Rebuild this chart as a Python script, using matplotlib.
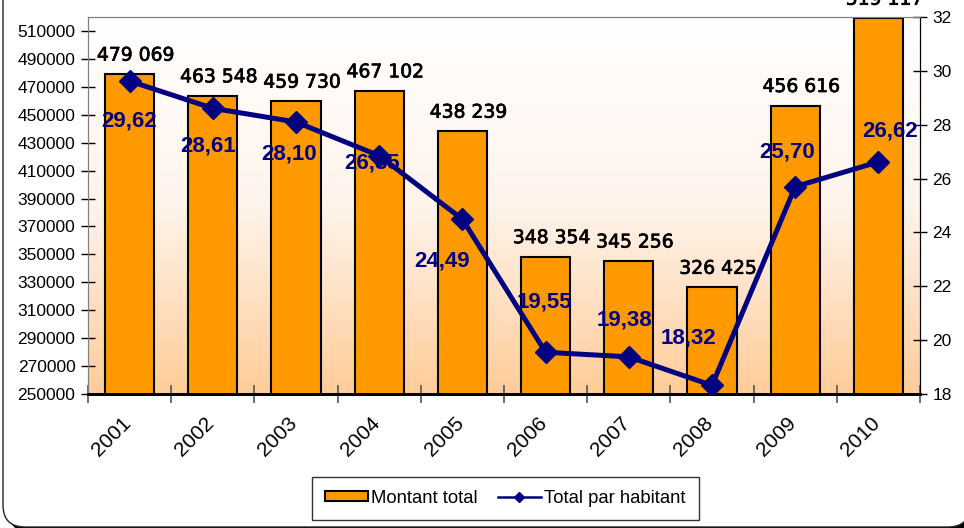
import matplotlib
matplotlib.use("Agg")
import matplotlib.pyplot as plt
import matplotlib.patheffects as pe
import numpy as np
from matplotlib.colors import LinearSegmentedColormap
from matplotlib.lines import Line2D
from matplotlib.patches import FancyBboxPatch, Patch
from matplotlib.transforms import IdentityTransform, ScaledTranslation

plt.rcParams["font.family"] = ["Liberation Sans", "DejaVu Sans"]

# data
years = ["2001", "2002", "2003", "2004", "2005", "2006", "2007", "2008", "2009", "2010"]
montant_total = [479069, 463548, 459730, 467102, 438239, 348354, 345256, 326425, 456616, 519117]
par_habitant = [29.62, 28.61, 28.10, 26.85, 24.49, 19.55, 19.38, 18.32, 25.70, 26.62]

# label placement for the per-inhabitant values (pixel offsets from the point)
hab_label_offsets = [(-1, -40), (-5, -38), (-7, -32), (-7, -7), (-20, -42),
                     (-1, 50), (-4, 37), (-24, 47), (-8, 35), (12, 31)]

ORANGE = "#FF9900"
NAVY = "#000080"

fig = plt.figure(figsize=(9.64, 5.28), dpi=100)
fig.patch.set_facecolor("white")

# rounded outer frame with a dark shadow (only the bottom-right corner shows)
shadow = FancyBboxPatch((9, -5), 967, 620, boxstyle="round,pad=0,rounding_size=22",
                        transform=IdentityTransform(), facecolor="black",
                        edgecolor="none", zorder=-11)
frame = FancyBboxPatch((3, 1), 967, 620, boxstyle="round,pad=0,rounding_size=22",
                       transform=IdentityTransform(), facecolor="white",
                       edgecolor="#222222", linewidth=1.0, zorder=-10)
fig.patches.extend([shadow, frame])

ax = fig.add_axes([88 / 964, 1 - 394 / 528, 832 / 964, 377 / 528])
x = np.arange(len(years))

# background gradient (white at top -> peach at bottom)
cmap = LinearSegmentedColormap.from_list("bg", ["#FFCC99", "#FFF4EC", "#FFFFFF"])
grad = np.linspace(0, 1, 256).reshape(-1, 1)
ax.imshow(grad, extent=[-0.5, 9.5, 250000, 520000], aspect="auto",
          origin="lower", cmap=cmap, zorder=0)

ax.bar(x, montant_total, width=0.59, color=ORANGE, edgecolor="black",
       linewidth=1.5, zorder=2)

ax.set_xlim(-0.5, 9.5)
ax.set_ylim(250000, 520000)
ax.set_yticks(np.arange(250000, 520000, 20000))
ax.tick_params(axis="y", direction="inout", length=10, width=1, labelsize=12.5,
               pad=4, colors="black")

ax.set_xticks(x)
ax.set_xticklabels(years, rotation=45, ha="right", va="top", fontsize=15)
ax.tick_params(axis="x", length=0, pad=14)
shift = ScaledTranslation(5 / 100, 0, fig.dpi_scale_trans)
for lbl in ax.get_xticklabels():
    lbl.set_transform(lbl.get_transform() + shift)
ax.set_xticks(np.arange(-0.5, 10, 1), minor=True)
ax.tick_params(axis="x", which="minor", direction="inout", length=13, width=1.2,
               color="#555555")

for side, col in [("left", "#808080"), ("top", "#808080"), ("bottom", "black"),
                  ("right", "black")]:
    ax.spines[side].set_color(col)
ax.spines["bottom"].set_linewidth(2)

for xi, v in zip(x, montant_total):
    lbl = f"{v:,}".replace(",", " ")
    ax.annotate(lbl, (xi, v), xytext=(6, 19), textcoords="offset pixels",
                ha="center", va="center", fontsize=13.5, family="DejaVu Sans",
                color="black", annotation_clip=False, zorder=5,
                path_effects=[pe.withStroke(linewidth=0.5, foreground="black")])

ax2 = ax.twinx()
ax2.plot(x, par_habitant, color=NAVY, linewidth=3.6, marker="D", markersize=11,
         zorder=3)
ax2.set_ylim(18, 32)
ax2.set_yticks(np.arange(18, 33, 2))
ax2.tick_params(axis="y", direction="inout", length=10, width=1, labelsize=12.5,
                pad=4)
for side, col in [("left", "#808080"), ("top", "#808080"), ("bottom", "black"),
                  ("right", "black")]:
    ax2.spines[side].set_color(col)
ax2.spines["bottom"].set_linewidth(2)

for xi, v, (dx, dy) in zip(x, par_habitant, hab_label_offsets):
    ax2.annotate(f"{v:.2f}".replace(".", ","), (xi, v), xytext=(dx, dy),
                 textcoords="offset pixels", ha="center", va="center",
                 fontsize=16, fontweight="bold", color=NAVY, zorder=6,
                 annotation_clip=False)

handles = [Patch(facecolor=ORANGE, edgecolor="black", linewidth=1.5),
           Line2D([], [], color=NAVY, linewidth=1.8, marker="D", markersize=5)]
leg = fig.legend(handles, ["Montant total", "Total par habitant"], ncol=2,
                 loc="center", bbox_to_anchor=(505.5 / 964, 1 - 498.5 / 528),
                 fontsize=13.3, frameon=True, fancybox=False, shadow=False,
                 handlelength=2.3, handleheight=0.45, handletextpad=0.2,
                 columnspacing=1.1, borderpad=0.7, borderaxespad=0)
leg.get_frame().set_edgecolor("black")
leg.get_frame().set_linewidth(1.0)

fig.savefig("out.png", dpi=100)
